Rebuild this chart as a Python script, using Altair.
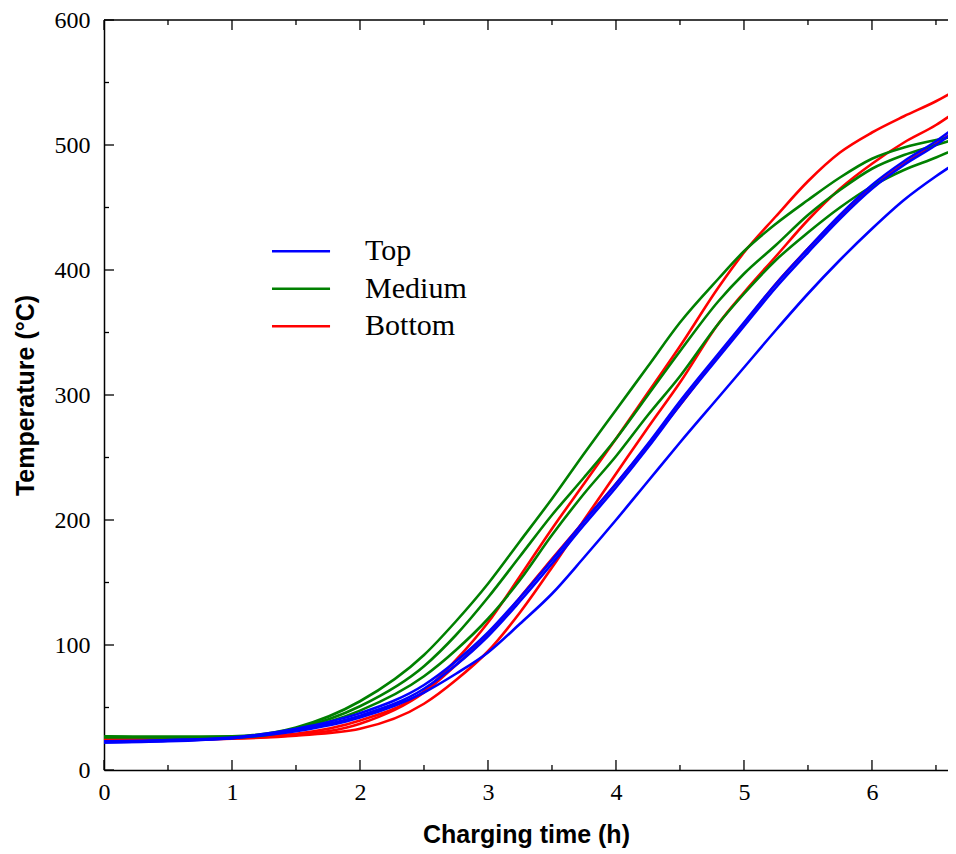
import altair as alt
import pandas as pd

# ---- data -------------------------------------------------------------------
time_h = [0, 0.5, 1.0, 1.5, 2.0, 2.5, 2.75, 3.0, 3.25, 3.5, 3.75, 4.0, 4.25, 4.5,
          4.8, 5.0, 5.25, 5.5, 5.75, 6.0, 6.25, 6.5, 6.66]

top_1 = [23, 24, 26, 33, 45.5, 68, 87, 110, 138, 168, 199, 229, 261, 295,
         333, 358, 389, 417, 444, 468, 487, 503, 515]
top_2 = [22, 23.5, 25.5, 32, 43.5, 65, 84, 107, 135, 165, 196, 226, 258, 292,
         330, 355, 386, 414, 441, 465, 484, 500, 512]
top_3 = [22, 23, 25.5, 31, 42, 62, 77, 94, 117, 141, 170, 200, 231, 262,
         298, 322, 352, 381, 408, 433, 456, 475, 486]

medium_1 = [27, 26.5, 27, 34, 55, 92, 119, 149, 183, 217, 253, 288, 323, 358,
            393, 415, 437, 456, 474, 489, 498, 504, 507]
medium_2 = [27, 26.5, 26.5, 33, 51, 83, 108, 138, 171, 204, 234, 265, 300, 335,
            375, 397, 420, 444, 464, 481, 492, 500, 505]
medium_3 = [26, 26, 26, 32, 47.5, 75, 96, 121, 152, 188, 221, 251, 284, 315,
            357, 381, 408, 430, 450, 467, 480, 490, 497]

bottom_1 = [24.5, 25, 26, 29, 39.6, 63, 88, 118, 155, 193, 229, 265, 302, 339,
            386, 414, 443, 471, 494, 510, 523, 535, 544]
bottom_2 = [24, 24, 25, 27.5, 33, 53, 72, 95, 126, 162, 200, 237, 274, 310,
            357, 382, 411, 440, 465, 485, 502, 516, 527]
bottom_3 = [24, 24.5, 25.5, 28, 37, 62, 84, 108, 138, 169, 199, 229, 260, 292,
            332, 357, 389, 417, 443, 466, 485, 501, 512]

groups = ["Top", "Medium", "Bottom"]
group_colors = ["#0000ff", "#008000", "#ff0000"]

x_major = [0, 1, 2, 3, 4, 5, 6]
x_minor = [0.5, 1.5, 2.5, 3.5, 4.5, 5.5, 6.5]
y_major = [0, 100, 200, 300, 400, 500, 600]
y_minor = [50, 150, 250, 350, 450, 550]

legend_T = [415, 385, 355]
legend_x1 = [1.3125, 1.3125, 1.3125]
legend_x2 = [1.766, 1.766, 1.766]
legend_xt = [2.04, 2.04, 2.04]

# ---- tables ------------------------------------------------------------------
series = {
    "Top": [top_1, top_2, top_3],
    "Medium": [medium_1, medium_2, medium_3],
    "Bottom": [bottom_1, bottom_2, bottom_3],
}
rows = []
for g, curves in series.items():
    for i, vals in enumerate(curves):
        for ti, v in zip(time_h, vals):
            rows.append({"group": g, "curve": f"{g}{i}", "t": ti, "T": v})
df = pd.DataFrame(rows)

legend_df = pd.DataFrame({"label": groups, "T": legend_T, "t": legend_x1,
                          "t2": legend_x2, "tt": legend_xt})

W, H = 844, 750
X_MAX = 6.594
xscale = alt.Scale(domain=[0, X_MAX], nice=False, zero=False)
yscale = alt.Scale(domain=[0, 600], nice=False, zero=False)

x_axis = alt.Axis(values=x_major, format="d", labelFont="Liberation Serif",
                  labelFontSize=24, labelColor="black", labelFlush=False,
                  labelPadding=10, ticks=False, tickSize=0, grid=False,
                  domainColor="black", domainWidth=1.5,
                  title="Charging time (h)", titleFont="Liberation Sans",
                  titleFontSize=25, titleFontWeight="bold", titleColor="black",
                  titlePadding=18)
y_axis = alt.Axis(values=y_major, format="d", labelFont="Liberation Serif",
                  labelFontSize=24, labelColor="black", labelPadding=14,
                  ticks=False, tickSize=0, grid=False,
                  domainColor="black", domainWidth=1.5,
                  title="Temperature (°C)", titleFont="Liberation Sans",
                  titleFontSize=25, titleFontWeight="bold", titleColor="black",
                  titlePadding=16)

X = lambda f: alt.X(f, scale=xscale, axis=x_axis)
Y = lambda f: alt.Y(f, scale=yscale, axis=y_axis)


def lines(group, color):
    return alt.Chart(df[df["group"] == group]).mark_line(
        clip=True, strokeWidth=2.6, interpolate="monotone", color=color
    ).encode(x=X("t:Q"), y=Y("T:Q"), detail="curve:N")


layers = [
    lines("Bottom", "#ff0000"),
    lines("Medium", "#008000"),
    lines("Top", "#0000ff"),
]

tick_style = dict(color="black", strokeWidth=1.3)
for vals, ln in [(x_major, 10), (x_minor, 5)]:
    d = pd.DataFrame({"t": vals})
    layers.append(alt.Chart(d).mark_rule(**tick_style).encode(
        x=X("t:Q"), y=alt.value(H), y2=alt.value(H - ln)))
    layers.append(alt.Chart(d).mark_rule(**tick_style).encode(
        x=X("t:Q"), y=alt.value(0), y2=alt.value(ln)))
for vals, ln in [(y_major, 10), (y_minor, 5)]:
    d = pd.DataFrame({"T": vals})
    layers.append(alt.Chart(d).mark_rule(**tick_style).encode(
        y=Y("T:Q"), x=alt.value(0), x2=alt.value(ln)))

# top frame line
layers.append(alt.Chart(pd.DataFrame({"a": [0]})).mark_rule(
    color="black", strokeWidth=1.5).encode(
    x=alt.value(0), x2=alt.value(W), y=alt.value(0)))

# legend drawn inside the plot
layers.append(alt.Chart(legend_df).mark_rule(strokeWidth=2.6).encode(
    x=X("t:Q"), x2="t2:Q", y=Y("T:Q"),
    color=alt.Color("label:N", scale=alt.Scale(domain=groups, range=group_colors),
                    legend=None)))
layers.append(alt.Chart(legend_df).mark_text(
    align="left", baseline="middle", font="Liberation Serif", fontSize=30,
    color="black").encode(x=X("tt:Q"), y=Y("T:Q"), text="label:N"))

chart = alt.layer(*layers).properties(
    width=W, height=H,
    autosize=alt.AutoSizeParams(type="none"),
    padding={"left": 96, "top": 12, "right": 0, "bottom": 80},
    background="white",
).configure_view(stroke=None)

chart.save("out.html", embed_options={"renderer": "svg", "actions": False})
